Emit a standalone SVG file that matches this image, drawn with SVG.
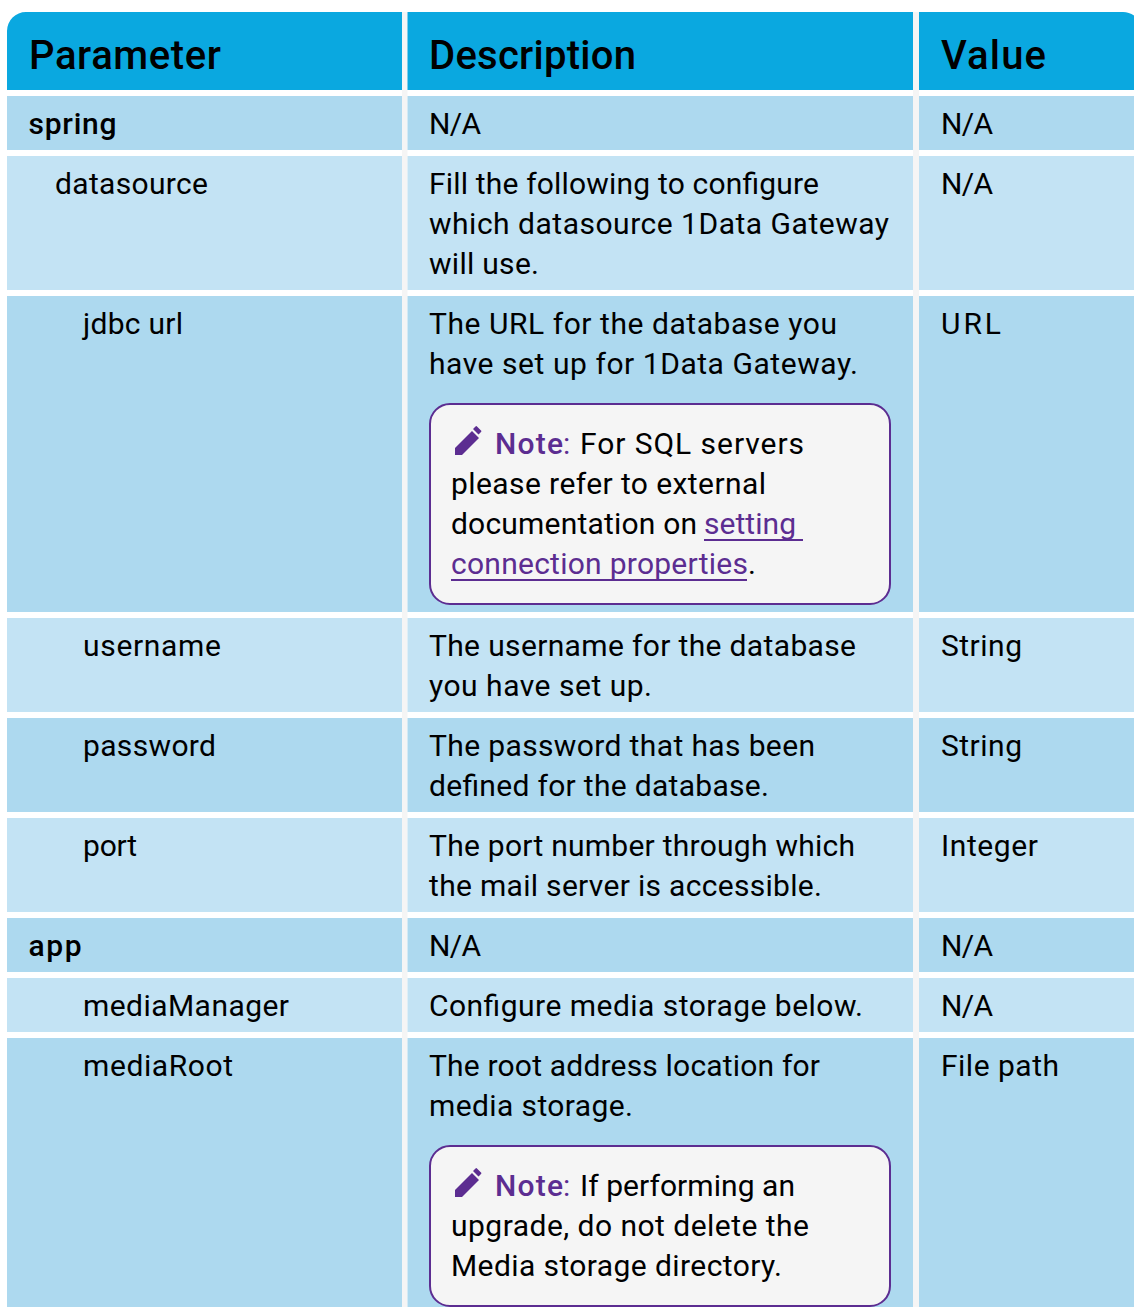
<svg xmlns="http://www.w3.org/2000/svg" width="1134" height="1307" viewBox="0 0 1134 1307">
<style>
text{font-family:Roboto,"Liberation Sans",sans-serif;font-size:30px;fill:#000}
.h{font-size:40px;font-weight:500}
.b{font-weight:500}
.d{fill:#add9ef}.l{fill:#c3e3f4}
.g{fill:#f5f5f5}
.box{fill:#f5f5f5;stroke:#5c2d91;stroke-width:2}
.n{fill:#5c2d91;font-weight:500}.c{fill:#5c2d91}
.a{fill:#5c2d91}
.u{stroke:#5c2d91;stroke-width:2}
.p{fill:#5c2d91}
</style>
<rect width="1134" height="1307" fill="#fff"/>
<g id="table-background">
<path d="M7 90V31a19 19 0 0 1 19-19H1123a19 19 0 0 1 11 3.500V90Z" fill="#0aa8e0"/>
<rect class="g" x="402" y="12" width="5.500" height="1295"/>
<rect class="g" x="913" y="12" width="6" height="1295"/>
</g>
<g id="header">
<text class="h" x="29" y="69" textLength="192">Parameter</text><text class="h" x="429" y="69" textLength="207">Description</text><text class="h" x="941" y="69" textLength="105">Value</text>
</g>
<g id="row-spring">
<rect class="d" x="7" y="96" width="395" height="54"/><rect class="d" x="407.500" y="96" width="505.500" height="54"/><rect class="d" x="919" y="96" width="215" height="54"/>
<text class="b" x="28.500" y="134" textLength="88">spring</text><text x="429" y="134" textLength="52">N/A</text><text x="941" y="134" textLength="52">N/A</text>
</g>
<g id="row-datasource">
<rect class="l" x="7" y="156" width="395" height="134"/><rect class="l" x="407.500" y="156" width="505.500" height="134"/><rect class="l" x="919" y="156" width="215" height="134"/>
<text x="55" y="194" textLength="153">datasource</text>
<text x="429" y="194" textLength="390">Fill the following to configure</text><text x="429" y="234" textLength="460">which datasource 1Data Gateway</text><text x="429" y="274" textLength="110">will use.</text>
<text x="941" y="194" textLength="52">N/A</text>
</g>
<g id="row-jdbc-url">
<rect class="d" x="7" y="296" width="395" height="316"/><rect class="d" x="407.500" y="296" width="505.500" height="316"/><rect class="d" x="919" y="296" width="215" height="316"/>
<text x="83" y="334" textLength="100">jdbc url</text>
<text x="429" y="334" textLength="408">The URL for the database you</text><text x="429" y="374" textLength="429">have set up for 1Data Gateway.</text>
<text x="941" y="334" textLength="60">URL</text>
</g>
<g id="note-jdbc">
<rect class="box" x="430" y="404" width="460" height="200" rx="20"/>
<path class="p" d="M455 455v-7l17-17 7 7-17 17ZM473 429l2.500-2.500 1-.500 5 5-.500 1-2.500 2.500Z"/>
<text class="n" x="495" y="454" textLength="68">Note</text><text class="c" x="563" y="454">:</text><text x="580" y="454" textLength="224">For SQL servers</text>
<text x="451" y="494" textLength="315">please refer to external</text>
<text x="451" y="534" textLength="246">documentation on</text><text class="a" x="704" y="534" textLength="92">setting</text>
<path class="u" d="M704 540H803M451 580H747"/>
<text class="a" x="451" y="574" textLength="297">connection properties</text><text x="748" y="574">.</text>
</g>
<g id="row-username">
<rect class="l" x="7" y="618" width="395" height="94"/><rect class="l" x="407.500" y="618" width="505.500" height="94"/><rect class="l" x="919" y="618" width="215" height="94"/>
<text x="83" y="656" textLength="138">username</text>
<text x="429" y="656" textLength="427">The username for the database</text><text x="429" y="696" textLength="223">you have set up.</text>
<text x="941" y="656" textLength="81">String</text>
</g>
<g id="row-password">
<rect class="d" x="7" y="718" width="395" height="94"/><rect class="d" x="407.500" y="718" width="505.500" height="94"/><rect class="d" x="919" y="718" width="215" height="94"/>
<text x="83" y="756" textLength="133">password</text>
<text x="429" y="756" textLength="386">The password that has been</text><text x="429" y="796" textLength="340">defined for the database.</text>
<text x="941" y="756" textLength="81">String</text>
</g>
<g id="row-port">
<rect class="l" x="7" y="818" width="395" height="94"/><rect class="l" x="407.500" y="818" width="505.500" height="94"/><rect class="l" x="919" y="818" width="215" height="94"/>
<text x="83" y="856" textLength="54">port</text>
<text x="429" y="856" textLength="426">The port number through which</text><text x="429" y="896" textLength="393">the mail server is accessible.</text>
<text x="941" y="856" textLength="97">Integer</text>
</g>
<g id="row-app">
<rect class="d" x="7" y="918" width="395" height="54"/><rect class="d" x="407.500" y="918" width="505.500" height="54"/><rect class="d" x="919" y="918" width="215" height="54"/>
<text class="b" x="28.500" y="956" textLength="53">app</text><text x="429" y="956" textLength="52">N/A</text><text x="941" y="956" textLength="52">N/A</text>
</g>
<g id="row-mediaManager">
<rect class="l" x="7" y="978" width="395" height="54"/><rect class="l" x="407.500" y="978" width="505.500" height="54"/><rect class="l" x="919" y="978" width="215" height="54"/>
<text x="83" y="1016" textLength="206">mediaManager</text><text x="429" y="1016" textLength="434">Configure media storage below.</text><text x="941" y="1016" textLength="52">N/A</text>
</g>
<g id="row-mediaRoot">
<rect class="d" x="7" y="1038" width="395" height="269"/><rect class="d" x="407.500" y="1038" width="505.500" height="269"/><rect class="d" x="919" y="1038" width="215" height="269"/>
<text x="83" y="1076" textLength="150">mediaRoot</text>
<text x="429" y="1076" textLength="391">The root address location for</text><text x="429" y="1116" textLength="204">media storage.</text>
<text x="941" y="1076" textLength="118">File path</text>
</g>
<g id="note-mediaRoot">
<rect class="box" x="430" y="1146" width="460" height="160" rx="20"/>
<path class="p" d="M455 1197v-7l17-17 7 7-17 17ZM473 1171l2.500-2.500 1-.500 5 5-.500 1-2.500 2.500Z"/>
<text class="n" x="495" y="1196" textLength="68">Note</text><text class="c" x="563" y="1196">:</text><text x="580" y="1196" textLength="215">If performing an</text>
<text x="451" y="1236" textLength="358">upgrade, do not delete the</text>
<text x="451" y="1276" textLength="331">Media storage directory.</text>
</g>
</svg>
